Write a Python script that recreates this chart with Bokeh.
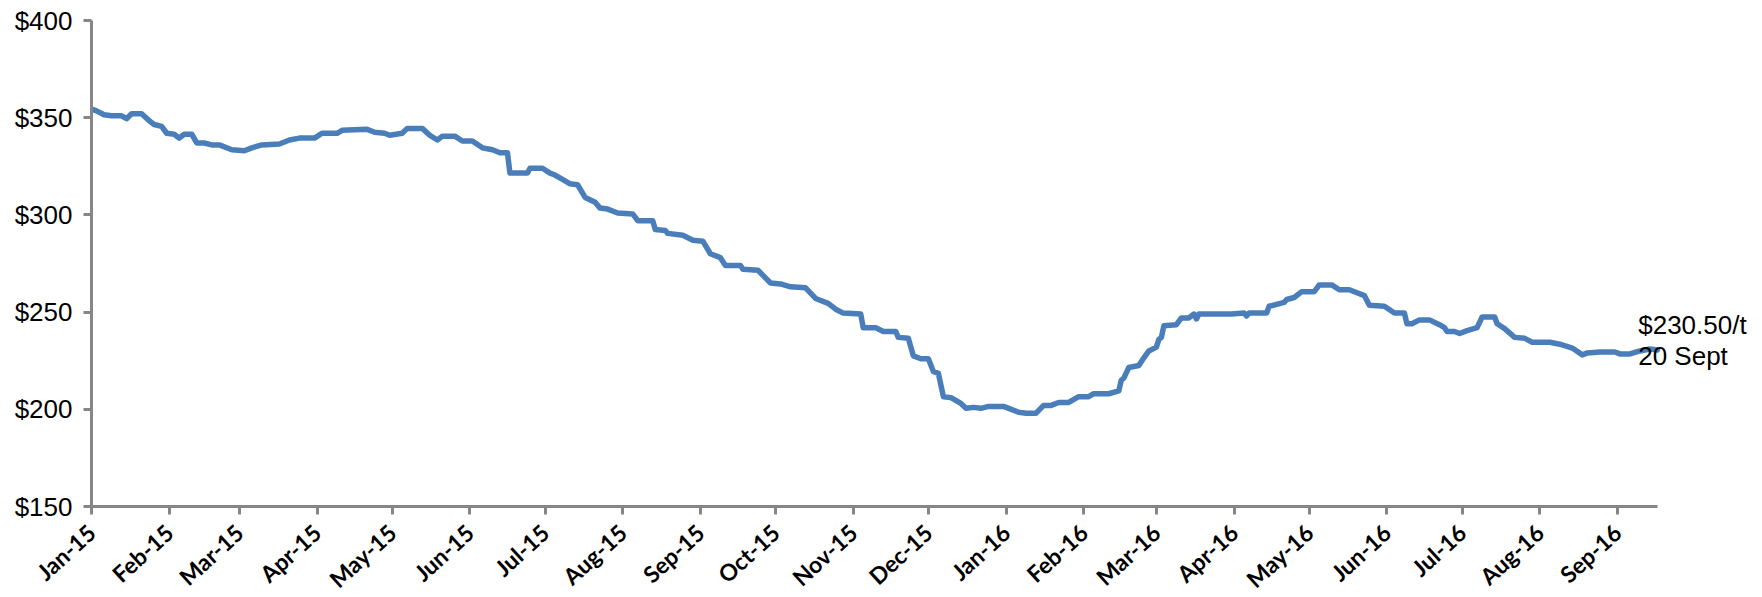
import pandas as pd
from bokeh.plotting import figure
from bokeh.models import (Range1d, MonthsTicker, DatetimeTickFormatter, FixedTicker,
                          PrintfTickFormatter, Label, ColumnDataSource)
from bokeh.embed import file_html
from bokeh.resources import INLINE

# ---- data (price, US$/t) ----
dates = [
    "2015-01-01", "2015-01-03", "2015-01-06", "2015-01-09", "2015-01-13", "2015-01-15",
    "2015-01-17", "2015-01-21", "2015-01-24", "2015-01-26", "2015-01-29", "2015-01-31",
    "2015-02-03", "2015-02-05", "2015-02-07", "2015-02-10", "2015-02-12", "2015-02-15",
    "2015-02-18", "2015-02-21", "2015-02-26", "2015-03-03", "2015-03-06", "2015-03-10",
    "2015-03-17", "2015-03-21", "2015-03-25", "2015-03-31", "2015-04-03", "2015-04-09",
    "2015-04-11", "2015-04-21", "2015-04-24", "2015-04-28", "2015-04-30", "2015-05-05",
    "2015-05-07", "2015-05-13", "2015-05-16", "2015-05-19", "2015-05-21", "2015-05-26",
    "2015-05-29", "2015-06-02", "2015-06-06", "2015-06-10", "2015-06-13", "2015-06-16",
    "2015-06-17", "2015-06-24", "2015-06-25", "2015-06-30", "2015-07-03", "2015-07-05",
    "2015-07-09", "2015-07-11", "2015-07-14", "2015-07-17", "2015-07-21", "2015-07-23",
    "2015-07-26", "2015-07-30", "2015-08-05", "2015-08-07", "2015-08-13", "2015-08-14",
    "2015-08-18", "2015-08-19", "2015-08-25", "2015-08-29", "2015-09-02", "2015-09-05",
    "2015-09-09", "2015-09-11", "2015-09-17", "2015-09-18", "2015-09-24", "2015-09-29",
    "2015-10-03", "2015-10-07", "2015-10-13", "2015-10-17", "2015-10-22", "2015-10-25",
    "2015-10-28", "2015-11-04", "2015-11-05", "2015-11-10", "2015-11-13", "2015-11-18",
    "2015-11-19", "2015-11-23", "2015-11-25", "2015-11-28", "2015-12-01", "2015-12-03",
    "2015-12-05", "2015-12-07", "2015-12-10", "2015-12-14", "2015-12-16", "2015-12-19",
    "2015-12-22", "2015-12-25", "2015-12-31", "2016-01-06", "2016-01-09", "2016-01-13",
    "2016-01-16", "2016-01-19", "2016-01-22", "2016-01-26", "2016-01-30", "2016-02-03",
    "2016-02-05", "2016-02-11", "2016-02-15", "2016-02-16", "2016-02-17", "2016-02-19",
    "2016-02-23", "2016-02-25", "2016-02-27", "2016-03-01", "2016-03-02", "2016-03-03",
    "2016-03-04", "2016-03-09", "2016-03-11", "2016-03-14", "2016-03-16", "2016-03-17",
    "2016-03-18", "2016-03-25", "2016-03-31", "2016-04-05", "2016-04-06", "2016-04-07",
    "2016-04-14", "2016-04-15", "2016-04-21", "2016-04-22", "2016-04-25", "2016-04-28",
    "2016-05-03", "2016-05-05", "2016-05-10", "2016-05-13", "2016-05-17", "2016-05-23",
    "2016-05-25", "2016-05-31", "2016-06-04", "2016-06-08", "2016-06-09", "2016-06-11",
    "2016-06-14", "2016-06-18", "2016-06-22", "2016-06-24", "2016-06-25", "2016-06-28",
    "2016-06-30", "2016-07-03", "2016-07-07", "2016-07-09", "2016-07-14", "2016-07-15",
    "2016-07-18", "2016-07-22", "2016-07-26", "2016-07-29", "2016-08-05", "2016-08-09",
    "2016-08-14", "2016-08-18", "2016-08-20", "2016-08-25", "2016-08-31", "2016-09-02",
    "2016-09-06", "2016-09-10", "2016-09-14", "2016-09-17",
]
price = [
    354.5, 353.5, 351.5, 351.0, 351.0, 349.5,
    352.0, 352.0, 348.5, 346.5, 345.5, 342.0,
    341.5, 339.5, 341.5, 341.5, 337.0, 337.0,
    336.0, 336.0, 333.5, 333.0, 334.5, 336.0,
    336.5, 338.5, 339.5, 339.5, 342.0, 342.0,
    343.5, 344.0, 342.5, 342.0, 341.0, 342.0,
    344.5, 344.5, 341.0, 338.5, 340.5, 340.5,
    338.0, 338.0, 334.5, 333.5, 332.0, 332.0,
    321.5, 321.5, 324.0, 324.0, 321.5, 320.5,
    317.5, 316.0, 315.5, 309.0, 306.5, 303.5,
    303.0, 301.0, 300.5, 297.0, 297.0, 292.5,
    292.0, 290.5, 289.5, 287.0, 286.5, 280.0,
    278.0, 274.0, 274.0, 272.0, 271.5, 265.0,
    264.5, 263.0, 262.5, 257.0, 254.5, 251.5,
    249.5, 249.0, 242.0, 242.0, 240.0, 240.0,
    237.0, 236.5, 227.5, 226.0, 226.0, 219.5,
    218.5, 206.5, 206.0, 203.0, 200.5, 201.0,
    200.5, 201.5, 201.5, 198.5, 198.0, 198.0,
    202.0, 202.0, 203.5, 203.5, 206.5, 206.5,
    208.0, 208.0, 209.5, 215.0, 216.0, 221.5,
    222.5, 226.5, 230.0, 232.0, 236.0, 237.0,
    243.0, 243.5, 247.0, 247.0, 249.0, 246.5,
    249.0, 249.0, 249.0, 249.5, 248.0, 249.5,
    249.5, 253.0, 255.0, 256.5, 257.5, 260.5,
    260.5, 264.0, 264.0, 261.5, 261.5, 258.5,
    253.5, 253.0, 249.5, 249.5, 244.0, 244.0,
    246.0, 246.0, 243.5, 242.0, 240.0, 240.0,
    239.0, 240.5, 242.0, 247.5, 247.5, 244.0,
    241.5, 237.0, 236.5, 234.5, 234.5, 233.5,
    231.5, 228.0, 229.0, 229.5, 229.5, 228.5,
    228.5, 230.0, 231.0, 230.5,
]
y_ticks = [150, 200, 250, 300, 350, 400]
annotation_lines = ["$230.50/t", "20 Sept"]

# ---- styling ----
LINE_COLOR = "#4A7EBB"
AXIS_COLOR = "#868686"
AXIS_PX = 1566       # pixel length of the date axis
FRAME_PX = 1659      # frame extends to the right to hold the end label

x = pd.to_datetime(dates)
src = ColumnDataSource(data=dict(x=x, y=price))
span = x[-1] - x[0]
x_end = x[0] + span * (FRAME_PX / AXIS_PX)

p = figure(
    frame_width=FRAME_PX, frame_height=486,
    min_border_left=91, min_border_top=20, min_border_right=4, min_border_bottom=40,
    x_axis_type="datetime",
    x_range=Range1d(start=x[0], end=x_end),
    y_range=Range1d(start=y_ticks[0], end=y_ticks[-1]),
    output_backend="svg", toolbar_location=None,
)
p.outline_line_color = None
p.xgrid.visible = False
p.ygrid.visible = False
p.background_fill_color = "white"
p.border_fill_color = "white"

p.line("x", "y", source=src, line_color=LINE_COLOR, line_width=5.5, line_join="round", line_cap="round")

# y axis
ya = p.yaxis[0]
ya.ticker = FixedTicker(ticks=y_ticks)
ya.formatter = PrintfTickFormatter(format="$%d")
ya.axis_line_color = AXIS_COLOR
ya.axis_line_width = 3
ya.major_tick_line_color = AXIS_COLOR
ya.major_tick_line_width = 3
ya.major_tick_out = 8
ya.major_tick_in = 0
ya.minor_tick_line_color = None
ya.major_label_standoff = 11
ya.major_label_text_font = "Liberation Sans"
ya.major_label_text_font_size = "26px"
ya.major_label_text_color = "black"

# x axis
xa = p.xaxis[0]
xa.bounds = (x[0], x[-1])
xa.ticker = MonthsTicker(months=list(range(12)))
xa.formatter = DatetimeTickFormatter(months="%b-%y", days="%b-%y", years="%b-%y")
xa.axis_line_color = AXIS_COLOR
xa.axis_line_width = 3
xa.major_tick_line_color = AXIS_COLOR
xa.major_tick_line_width = 3
xa.major_tick_out = 8
xa.major_tick_in = 0
xa.minor_tick_line_color = None
xa.major_label_orientation = 0.74
xa.major_label_standoff = 14
xa.major_label_text_font = "Lato"
xa.major_label_text_font_style = "bold"
xa.major_label_text_font_size = "23px"
xa.major_label_text_color = "black"

# annotation next to the last point
last_ms = x[-1].value / 1e6
lab_x = last_ms - 7.7 * 86400000
offsets = [13.0, -3.0]
for txt, dy in zip(annotation_lines, offsets):
    p.add_layout(Label(x=lab_x, y=price[-1] + dy, text=txt,
                       text_font="Liberation Sans", text_font_size="26px",
                       text_color="black", text_baseline="alphabetic", text_align="left"))

open("out.html", "w").write(file_html(p, INLINE))
